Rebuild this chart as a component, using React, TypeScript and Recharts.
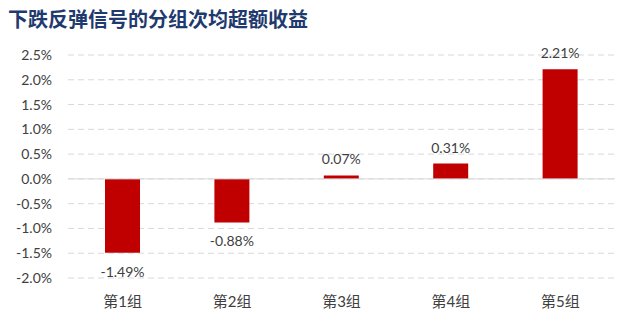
import { BarChart, Bar, XAxis, YAxis, CartesianGrid, ReferenceLine, LabelList } from 'recharts'

const groups = ['第1组', '第2组', '第3组', '第4组', '第5组']
const returns = [-1.49, -0.88, 0.07, 0.31, 2.21]
const yTicks = [-2, -1.5, -1, -0.5, 0, 0.5, 1, 1.5, 2, 2.5]

const data = groups.map((g, i) => ({ group: g, value: returns[i] }))

const font = "Lato, 'Noto Sans CJK SC', sans-serif"
const textColor = '#404040'

const BarLabel = (props: any) => {
  const { x, y, width, height, value } = props
  const cx = x + width / 2
  const neg = value < 0
  // for negative bars recharts gives y at the zero line and a negative height
  const top = Math.min(y, y + height)
  const bottom = Math.max(y, y + height)
  return (
    <text
      x={cx}
      y={neg ? bottom + 24 : top - 11}
      textAnchor="middle"
      fill={textColor}
      fontSize={14}
      fontFamily={font}
    >
      {value.toFixed(2)}%
    </text>
  )
}

export default function App() {
  return (
    <div style={{ position: 'fixed', left: 0, top: 0, width: 621, height: 315, background: '#fff' }}>
      <div
        style={{
          position: 'absolute',
          left: 8,
          top: 4,
          fontSize: 20,
          fontWeight: 700,
          color: '#1F3A6E',
          fontFamily: "'Noto Sans CJK SC', sans-serif",
          whiteSpace: 'nowrap',
        }}
      >
        下跌反弹信号的分组次均超额收益
      </div>
      <BarChart width={621} height={315} data={data} margin={{ top: 55, right: 6, left: 0, bottom: 7 }}>
        <CartesianGrid vertical={false} stroke="#d9d9d9" strokeDasharray="6 4" />
        <XAxis
          dataKey="group"
          axisLine={false}
          tickLine={false}
          tickSize={0}
          tickMargin={18}
          height={30}
          tick={{ fill: textColor, fontSize: 15, fontFamily: font }}
        />
        <YAxis
          type="number"
          domain={[-2, 2.5]}
          ticks={yTicks}
          width={68}
          axisLine={false}
          tickLine={false}
          tickSize={0}
          tickMargin={16}
          tick={{ fill: textColor, fontSize: 14, fontFamily: font }}
          tickFormatter={(v: number) => `${v.toFixed(1)}%`}
        />
        <ReferenceLine y={0} stroke="#d9d9d9" strokeWidth={1} />
        <Bar dataKey="value" fill="#C00000" barSize={35} isAnimationActive={false}>
          <LabelList dataKey="value" content={<BarLabel />} />
        </Bar>
      </BarChart>
    </div>
  )
}
